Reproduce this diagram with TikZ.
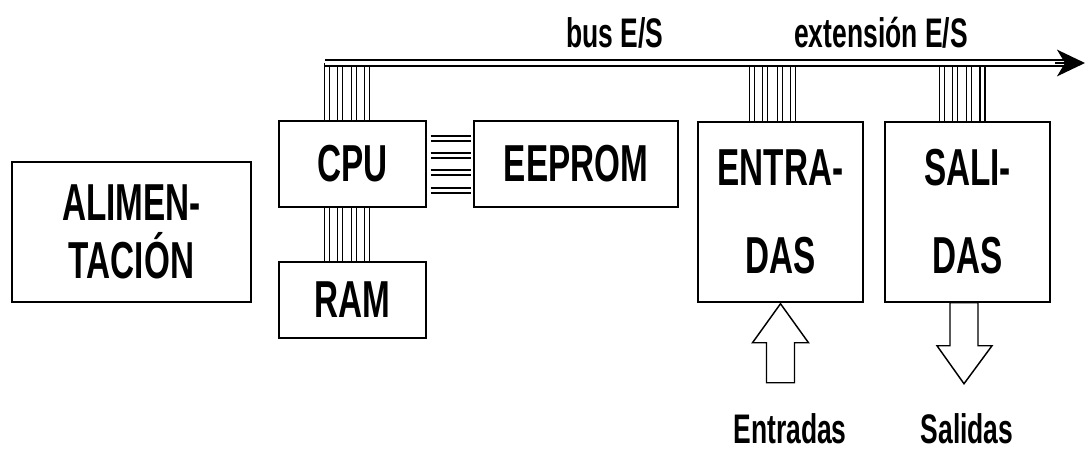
\documentclass[tikz,border=0pt]{standalone}
\usepackage{fontspec}
\newfontfamily\narrowsans{Liberation Sans}[FakeStretch=0.64]
\usetikzlibrary{arrows.meta,calc}

\begin{document}
\begin{tikzpicture}[
    x=0.75pt, y=-0.75pt,
    box/.style={draw, line width=1.1pt, inner sep=0pt, align=center,
        font=\narrowsans\bfseries\fontsize{39}{43.5}\selectfont},
    lbl/.style={anchor=base, inner sep=0pt,
        font=\narrowsans\bfseries\fontsize{31}{36}\selectfont},
    wire/.style={line width=1.1pt, double=white, double distance=2.65pt},
    bus/.style={line width=1.1pt, double=white, double distance=3.4pt, shorten >=14pt},
    tip/.style={line width=1.1pt, -{Stealth[length=21pt, width=20pt, inset=6pt]}},
    fat/.style={draw, line width=1.1pt, fill=white, line join=miter},
]
    \useasboundingbox (0,0) rectangle (1086,450);

    % boxes
    \node[box, minimum width=179.25pt, minimum height=105pt] (alim) at (131.5,232) {ALIMEN-\\TACIÓN};
    \node[box, minimum width=110.25pt, minimum height=64.5pt] (cpu) at (352.5,164) {CPU};
    \node[box, minimum width=153pt, minimum height=64.5pt] (eeprom) at (576,164) {EEPROM};
    \node[box, minimum width=110.25pt, minimum height=57pt] (ram) at (352.5,300) {RAM};
    \node[box, minimum width=123.75pt, minimum height=135pt] (entr) at (780.5,212) {ENTRA-\\[22.5pt]DAS};
    \node[box, minimum width=123.75pt, minimum height=135pt] (sal) at (967.5,212) {SALI-\\[22.5pt]DAS};

    % labels
    \node[lbl] (busl) at (615,47) {bus E/S};
    \node[lbl] (extl) at (881,47) {extensión E/S};
    \node[lbl] (inl) at (790,443) {Entradas};
    \node[lbl] (outl) at (967,443) {Salidas};

    % bus ends
    \coordinate (busL) at (325,63);
    \coordinate (busR) at (1085,63);

    % CPU to bus and RAM
    \foreach \dx in {48.5,61.5,75.5,88.5} {
        \path ($(cpu.north west)+(\dx,0)$) coordinate (w);
        \draw[wire] (w) -- (w |- busL);
        \path ($(cpu.south west)+(\dx,0)$) coordinate (w);
        \draw[wire] (w) -- (w |- ram.north);
    }

    % CPU to EEPROM
    \foreach \dy in {18,35,52,70} {
        \path ($(cpu.north east)+(0,\dy)$) coordinate (w);
        \draw[wire, shorten <=3pt, shorten >=1.5pt] (w) -- (w -| eeprom.west);
    }

    % I/O to bus
    \foreach \dx in {54.5,67.5,82.5,95.5} {
        \path ($(entr.north west)+(\dx,0)$) coordinate (w);
        \draw[wire] (w) -- (w |- busL);
    }
    \foreach \dx in {57.5,70.5,84.5,98} {
        \path ($(sal.north west)+(\dx,0)$) coordinate (w);
        \draw[wire] (w) -- (w |- busL);
    }

    % bus
    \draw[bus] (busL) -- (busR);
    \draw[tip] ($(busR)+(-30,0)$) -- (busR);

    % in / out arrows
    \draw[fat] ($(entr.south)+(0,1)$) -- ++(28,39) -- ++(-14,0) -- ++(0,40) -- ++(-28,0) -- ++(0,-40) -- ++(-14,0) -- cycle;
    \draw[fat] ($(sal.south)+(-17.5,0)$) -- ++(0,43) -- ++(-13,0) -- ++(27,38) -- ++(28,-38) -- ++(-14,0) -- ++(0,-43) -- cycle;
\end{tikzpicture}
\end{document}
